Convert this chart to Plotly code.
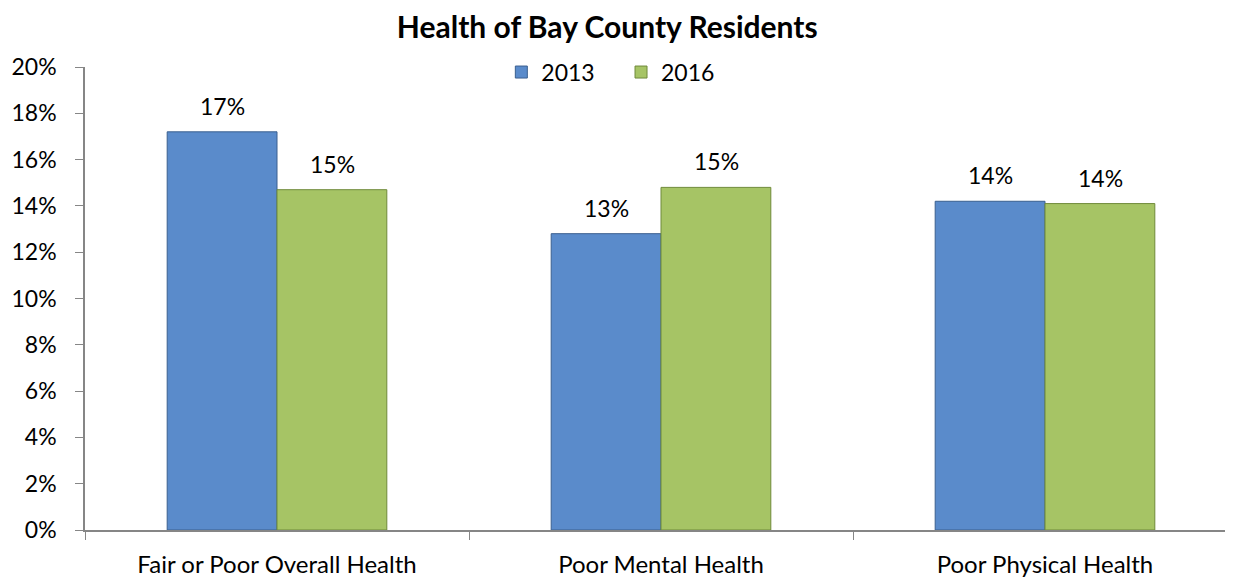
import plotly.graph_objects as go

categories = ["Fair or Poor Overall Health", "Poor Mental Health", "Poor Physical Health"]
series_names = ["2013", "2016"]
values_2013 = [17.2, 12.8, 14.2]
values_2016 = [14.7, 14.8, 14.1]
y_ticks = [0, 2, 4, 6, 8, 10, 12, 14, 16, 18, 20]
y_tick_labels = [f"{v}%" for v in y_ticks]

colors = {"2013": "#5A8BCB", "2016": "#A6C465"}
edge = {"2013": "#3A5F8F", "2016": "#6F8A3A"}
legend_ids = {"2013": "legend", "2016": "legend2"}
FONT = "Lato"

fig = go.Figure()
for name, vals in zip(series_names, [values_2013, values_2016]):
    fig.add_trace(go.Bar(
        name=name, x=categories, y=vals, legend=legend_ids[name],
        marker=dict(color=colors[name], line=dict(color=edge[name], width=1)),
    ))

# value labels
for i, (name, vals) in enumerate(zip(series_names, [values_2013, values_2016])):
    for cat, v in zip(categories, vals):
        fig.add_annotation(
            x=cat, y=v, text=f"{round(v):.0f}%", showarrow=False,
            xshift=(-55 if i == 0 else 55), yshift=26, yanchor="middle",
            font=dict(family=FONT, size=23, color="#000000"),
        )

legend_style = dict(orientation="h", xanchor="left", y=0.989, yanchor="middle",
                    itemwidth=30, font=dict(family=FONT, size=23), bgcolor="rgba(0,0,0,0)")

fig.update_layout(
    width=1233, height=579,
    margin=dict(l=75, r=4, t=59, b=57),
    paper_bgcolor="white", plot_bgcolor="white",
    barmode="group", bargap=0.428, bargroupgap=0,
    font=dict(family=FONT, size=23, color="#000000"),
    title=dict(text="<b>Health of Bay County Residents</b>", x=0.486, xanchor="center",
               y=1 - 19 / 579, yanchor="middle", font=dict(family=FONT, size=30, color="#000000")),
    legend=dict(x=0.3614, **legend_style),
    legend2=dict(x=0.4653, **legend_style),
    showlegend=True,
)
fig.update_xaxes(
    range=[-0.5, 2.5], showline=True, linecolor="#868686", linewidth=1.5,
    ticks="outside", tickson="boundaries", ticklen=8, tickcolor="#868686",
    showgrid=False, tickfont=dict(family=FONT, size=24), ticklabelstandoff=12,
)
fig.update_yaxes(
    range=[0, 20], tickvals=y_ticks, ticktext=y_tick_labels,
    showline=True, linecolor="#868686", linewidth=1.5,
    ticks="outside", ticklen=8, tickcolor="#868686", showgrid=False,
    tickfont=dict(family=FONT, size=23), ticklabelstandoff=14, zeroline=False,
)

fig.write_html("out.html")
